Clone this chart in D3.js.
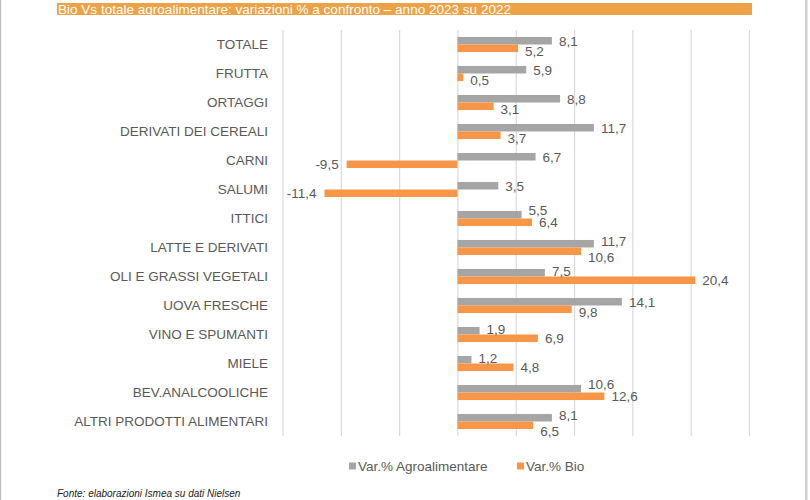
<!DOCTYPE html>
<html>
<head>
<meta charset="utf-8">
<script src="https://cdn.jsdelivr.net/npm/d3@7"></script>
<style>
  body { margin: 0; background: #fff; }
  svg { font-family: "Liberation Sans", Arial, sans-serif; }
</style>
</head>
<body>
<script>
// dati
const categories = ["TOTALE", "FRUTTA", "ORTAGGI", "DERIVATI DEI CEREALI", "CARNI", "SALUMI",
  "ITTICI", "LATTE E DERIVATI", "OLI E GRASSI VEGETALI", "UOVA FRESCHE", "VINO E SPUMANTI",
  "MIELE", "BEV.ANALCOOLICHE", "ALTRI PRODOTTI ALIMENTARI"];
const agro = [8.1, 5.9, 8.8, 11.7, 6.7, 3.5, 5.5, 11.7, 7.5, 14.1, 1.9, 1.2, 10.6, 8.1];
const bio = [5.2, 0.5, 3.1, 3.7, -9.5, -11.4, 6.4, 10.6, 20.4, 9.8, 6.9, 4.8, 12.6, 6.5];
const seriesNames = ["Var.% Agroalimentare", "Var.% Bio"];
const gridTicks = [-15, -10, -5, 0, 5, 10, 15, 20, 25];

const title = "Bio Vs totale agroalimentare: variazioni % a confronto \u2013 anno 2023 su 2022";
const source = "Fonte: elaborazioni Ismea su dati Nielsen";

const width = 810, height = 500;
const colors = ["#a5a5a5", "#f79646"];
const textColor = "#595959";
const fs = 13.5;

const svg = d3.select("body").append("svg")
  .attr("width", width)
  .attr("height", height);

// bordi pagina
svg.append("rect").attr("x", 0).attr("y", 0).attr("width", 1.2).attr("height", height).attr("fill", "#bdbdbd");
svg.append("rect").attr("x", 805).attr("y", 0).attr("width", 2.5).attr("height", height).attr("fill", "#cfcfcf");

// barra titolo
svg.append("rect")
  .attr("x", 57).attr("y", 3)
  .attr("width", 695).attr("height", 12)
  .attr("fill", "#eca245");
svg.append("text")
  .attr("x", 58).attr("y", 13.5)
  .attr("fill", "#fff")
  .attr("font-size", 13)
  .attr("textLength", 453)
  .attr("lengthAdjust", "spacingAndGlyphs")
  .text(title);

const x = d3.scaleLinear().domain([-15, 25]).range([282.5, 749]);
const y = d3.scaleBand().domain(categories).range([30, 436]).paddingInner(0.48).paddingOuter(0.24);
const sub = d3.scaleBand().domain([0, 1]).range([0, y.bandwidth()]);

// griglia verticale
svg.append("g")
  .attr("transform", "translate(0,436)")
  .call(d3.axisBottom(x).tickValues(gridTicks).tickSize(-406).tickFormat(""))
  .call(g => g.select(".domain").remove())
  .call(g => g.selectAll(".tick line").attr("stroke", "#d9d9d9").attr("stroke-width", 1.2));

// etichette categorie
svg.append("g")
  .selectAll("text")
  .data(categories)
  .join("text")
  .attr("x", 268)
  .attr("y", d => y(d) + y.bandwidth() / 2)
  .attr("dy", "0.36em")
  .attr("text-anchor", "end")
  .attr("font-size", fs)
  .attr("fill", textColor)
  .text(d => d);

const rows = categories.map((c, i) => ({ cat: c, vals: [agro[i], bio[i]] }));

const row = svg.append("g").selectAll("g")
  .data(rows)
  .join("g")
  .attr("transform", d => `translate(0,${y(d.cat)})`);

row.selectAll("rect")
  .data(d => d.vals)
  .join("rect")
  .attr("x", v => x(Math.min(0, v)))
  .attr("y", (v, j) => sub(j))
  .attr("width", v => Math.abs(x(v) - x(0)))
  .attr("height", sub.bandwidth())
  .attr("fill", (v, j) => colors[j]);

// etichette valori
const fmt = v => d3.format(".1f")(v).replace(".", ",").replace("\u2212", "-");
row.each(function(d) {
  const g = d3.select(this);
  const labels = d.vals.map((v, j) => g.append("text")
    .attr("x", v >= 0 ? x(v) + 7 : x(v) - 8)
    .attr("text-anchor", v >= 0 ? "start" : "end")
    .attr("font-size", fs)
    .attr("fill", textColor)
    .attr("dy", "0.36em")
    .text(fmt(v)));

  const w = labels.map(l => l.node().getComputedTextLength());
  const [a, b] = d.vals;
  let shiftA = 0, shiftB = 0;
  if (a >= 0 && b >= 0) {
    const ax = x(a) + 7, bx = x(b) + 7;
    const labelsOverlap = ax < bx + w[1] && bx < ax + w[0];
    const aOnBar = x(b) > ax;
    const bOnBar = x(a) > bx;
    if (aOnBar) shiftA -= 2;
    if (labelsOverlap) shiftA -= 3;
    if (bOnBar) shiftB += 3;
    if (labelsOverlap && !aOnBar) shiftB += 3;
  }
  labels[0].attr("y", sub(0) + sub.bandwidth() / 2 + shiftA);
  labels[1].attr("y", sub(1) + sub.bandwidth() / 2 + shiftB);
});

// legenda
const legend = svg.append("g").attr("transform", "translate(349,466)");
const legX = [0, 168];
seriesNames.forEach((s, i) => {
  legend.append("rect")
    .attr("x", legX[i]).attr("y", -3.5)
    .attr("width", 7).attr("height", 7)
    .attr("fill", colors[i]);
  legend.append("text")
    .attr("x", legX[i] + 9)
    .attr("dy", "0.36em")
    .attr("font-size", fs)
    .attr("fill", textColor)
    .text(s);
});

// fonte
svg.append("text")
  .attr("x", 57).attr("y", 497)
  .attr("font-size", 10)
  .attr("font-style", "italic")
  .attr("fill", "#222")
  .text(source);
</script>
</body>
</html>
